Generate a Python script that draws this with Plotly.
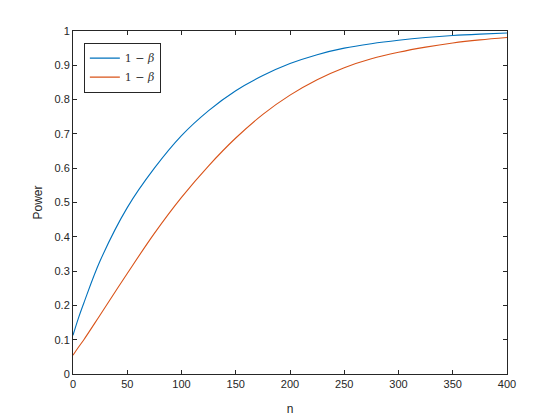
import plotly.graph_objects as go

# sample sizes and power values
n = [0, 5, 10, 25, 50, 75, 100, 125, 150, 175, 200, 225, 250, 275, 300, 325, 350, 375, 400]
power_a = [0.113, 0.163, 0.207, 0.330, 0.485, 0.600, 0.695, 0.768, 0.826, 0.870, 0.905,
           0.931, 0.950, 0.963, 0.973, 0.981, 0.987, 0.991, 0.994]
power_b = [0.055, 0.078, 0.100, 0.172, 0.293, 0.410, 0.515, 0.607, 0.688, 0.757, 0.813,
           0.858, 0.893, 0.919, 0.938, 0.953, 0.965, 0.974, 0.981]
labels = ["1 \u2212 <i>\u03b2</i>", "1 \u2212 <i>\u03b2</i>"]

x_ticks = list(range(0, 401, 50))
y_ticks = [i / 10 for i in range(11)]
y_ticktext = ["0"] + [f"{v:g}" for v in y_ticks[1:-1]] + ["1"]

axis_color = "#262626"

fig = go.Figure()
fig.add_trace(go.Scatter(x=n, y=power_a, mode="lines", name=labels[0],
                         line=dict(color="#0072BD", width=1.1, shape="spline")))
fig.add_trace(go.Scatter(x=n, y=power_b, mode="lines", name=labels[1],
                         line=dict(color="#D95319", width=1.1, shape="spline")))

common = dict(showgrid=False, zeroline=False, showline=True, linewidth=1,
              linecolor=axis_color, mirror="ticks", ticks="inside", ticklen=4,
              tickcolor=axis_color, tickfont=dict(size=11, color=axis_color),
              automargin=False)

fig.update_xaxes(range=[0, 400], tickvals=x_ticks, title=dict(text="n", standoff=15,
                 font=dict(size=12, color=axis_color)), **common)
fig.update_yaxes(range=[0, 1], tickvals=y_ticks, ticktext=y_ticktext,
                 title=dict(text="Power", standoff=9, font=dict(size=12, color=axis_color)),
                 **common)

fig.update_layout(
    width=560, height=420,
    margin=dict(l=73, r=53, t=31, b=46),
    paper_bgcolor="white", plot_bgcolor="white",
    font=dict(family="Liberation Sans, Arial, sans-serif", color=axis_color),
    legend=dict(x=0.025, y=0.966, xanchor="left", yanchor="top",
                bordercolor="#262626", borderwidth=1, bgcolor="white",
                font=dict(family="DejaVu Serif, serif", size=11, color="#333333"),
                tracegroupgap=0, itemwidth=30),
    showlegend=True,
)

fig.write_html("out.html", config={"displayModeBar": False},
               post_script="document.body.style.margin='0';")
